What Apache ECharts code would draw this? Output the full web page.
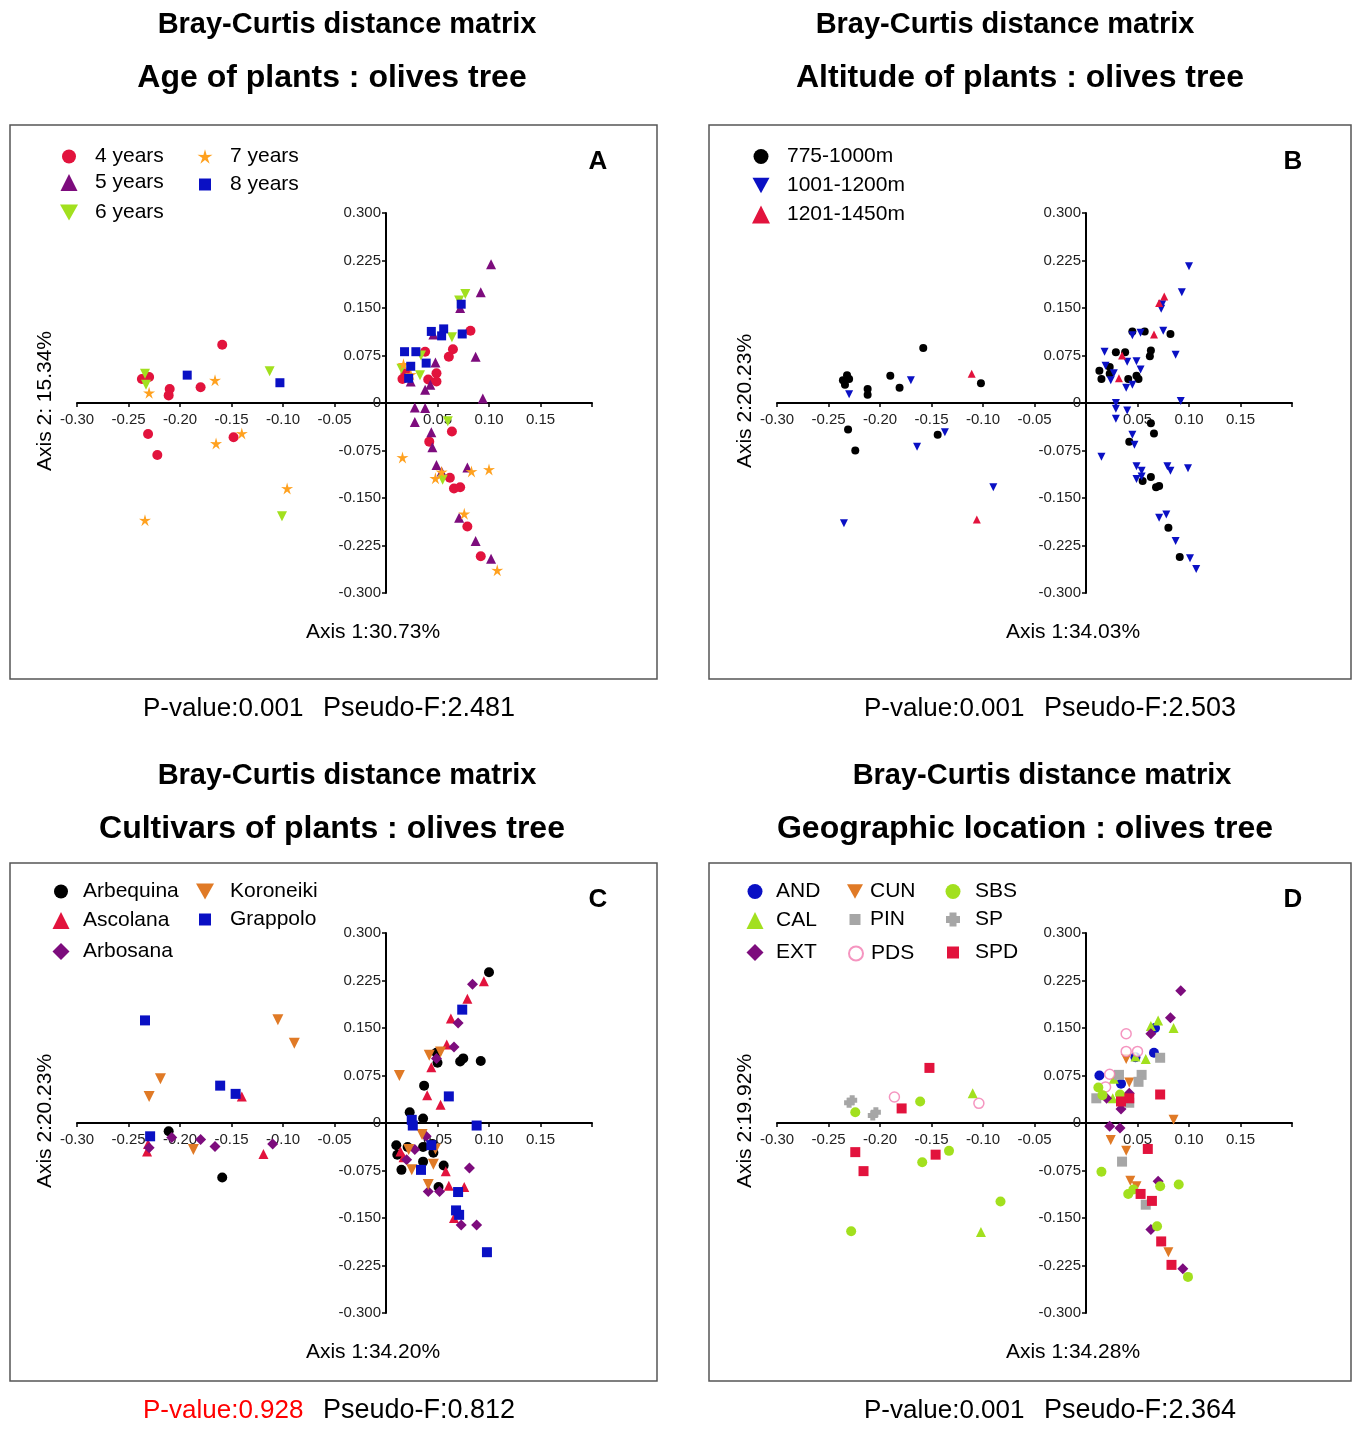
<!DOCTYPE html>
<html>
<head>
<meta charset="utf-8">
<script src="https://cdn.jsdelivr.net/npm/echarts@6/dist/echarts.min.js"></script>
<style>
html,body{margin:0;padding:0;background:#fff;}
#main{width:1353px;height:1433px;}
</style>
</head>
<body>
<div id="main"></div>
<script>
// ---------- data (PCoA coordinates) ----------
// A : age of plants
var age4 = [[-0.237,0.038],[-0.230,0.041],[-0.210,0.022],[-0.211,0.012],[-0.180,0.025],[-0.159,0.092],[-0.231,-0.049],[-0.222,-0.082],[-0.148,-0.054],
	[0.082,0.114],[0.065,0.085],[0.061,0.073],[0.038,0.081],[0.049,0.047],[0.041,0.037],[0.049,0.034],[0.016,0.038],[0.019,0.047],
	[0.064,-0.045],[0.042,-0.061],[0.062,-0.118],[0.066,-0.135],[0.072,-0.133],[0.079,-0.195],[0.092,-0.242]];
var age5 = [[0.102,0.219],[0.092,0.175],[0.072,0.150],[0.046,0.108],[0.048,0.064],[0.087,0.073],[0.024,0.034],[0.043,0.029],[0.038,0.021],
	[0.094,0.007],[0.028,-0.007],[0.038,-0.008],[0.028,-0.030],[0.044,-0.046],[0.045,-0.070],[0.049,-0.098],[0.054,-0.108],[0.079,-0.102],
	[0.071,-0.181],[0.087,-0.218],[0.102,-0.246]];
var age6 = [[-0.234,0.046],[-0.233,0.029],[-0.113,0.050],[-0.101,-0.179],[0.077,0.172],[0.071,0.162],[0.064,0.104],[0.015,0.054],
	[0.033,0.044],[0.034,0.075],[0.060,-0.029],[0.055,-0.121]];
var age7 = [[-0.230,0.016],[-0.166,0.036],[-0.140,-0.048],[-0.165,-0.064],[-0.096,-0.135],[-0.234,-0.185],[0.017,0.061],[0.024,0.045],
	[0.016,-0.086],[0.054,-0.109],[0.048,-0.119],[0.083,-0.108],[0.100,-0.105],[0.076,-0.175],[0.108,-0.264]];
var age8 = [[-0.193,0.044],[-0.103,0.032],[0.073,0.156],[0.044,0.113],[0.056,0.117],[0.054,0.106],[0.074,0.109],[0.018,0.081],
	[0.029,0.081],[0.039,0.063],[0.024,0.058],[0.022,0.039]];

// B : altitude
var alt775 = [[-0.236,0.036],[-0.232,0.044],[-0.230,0.038],[-0.234,0.029],[-0.212,0.022],[-0.212,0.013],[-0.190,0.043],[-0.181,0.024],
	[-0.158,0.087],[-0.102,0.031],[-0.231,-0.042],[-0.224,-0.075],[-0.144,-0.050],
	[0.045,0.113],[0.057,0.113],[0.082,0.109],[0.063,0.083],[0.062,0.074],[0.029,0.080],[0.038,0.080],[0.023,0.057],[0.013,0.051],
	[0.015,0.038],[0.023,0.046],[0.041,0.038],[0.049,0.043],[0.051,0.038],[0.063,-0.032],[0.066,-0.048],[0.042,-0.061],[0.063,-0.117],
	[0.055,-0.123],[0.068,-0.133],[0.071,-0.131],[0.080,-0.197],[0.091,-0.243]];
var alt1001 = [[-0.230,0.014],[-0.170,0.036],[-0.137,-0.046],[-0.164,-0.069],[-0.090,-0.133],[-0.235,-0.190],
	[0.100,0.216],[0.093,0.175],[0.074,0.156],[0.073,0.149],[0.075,0.114],[0.045,0.107],[0.053,0.111],[0.018,0.081],[0.019,0.059],
	[0.049,0.066],[0.040,0.065],[0.087,0.076],[0.053,0.053],[0.027,0.047],[0.024,0.036],[0.039,0.024],[0.045,0.029],[0.092,0.003],
	[0.029,0.000],[0.029,-0.009],[0.040,-0.012],[0.029,-0.025],[0.045,-0.050],[0.047,-0.066],[0.015,-0.085],[0.049,-0.100],
	[0.054,-0.107],[0.049,-0.120],[0.054,-0.116],[0.079,-0.100],[0.082,-0.107],[0.099,-0.103],[0.071,-0.181],[0.078,-0.176],
	[0.087,-0.218],[0.101,-0.245],[0.107,-0.262]];
var alt1201 = [[-0.111,0.046],[-0.106,-0.184],[0.076,0.168],[0.071,0.158],[0.066,0.108],[0.035,0.075],[0.032,0.039]];

// C : cultivars
var cArbequina = [[-0.211,-0.013],[-0.159,-0.086],[0.100,0.238],[0.049,0.111],[0.050,0.095],[0.072,0.097],[0.075,0.102],[0.092,0.098],
	[0.037,0.059],[0.023,0.017],[0.036,0.007],[0.010,-0.035],[0.011,-0.050],[0.021,-0.038],[0.036,-0.038],[0.046,-0.047],[0.036,-0.061],
	[0.015,-0.074],[0.056,-0.067],[0.051,-0.101],[0.045,-0.033]];
var cAscolana = [[-0.231,-0.033],[-0.232,-0.045],[-0.119,-0.049],[-0.140,0.042],[0.095,0.224],[0.079,0.196],[0.063,0.165],[0.059,0.124],
	[0.044,0.088],[0.040,0.044],[0.053,0.029],[0.014,-0.045],[0.017,-0.054],[0.058,-0.076],[0.061,-0.099],[0.076,-0.101],[0.066,-0.150]];
var cArbosana = [[-0.230,-0.039],[-0.208,-0.023],[-0.180,-0.026],[-0.166,-0.037],[-0.110,-0.033],[0.084,0.219],[0.070,0.158],[0.066,0.120],
	[0.049,0.102],[0.039,-0.021],[0.028,-0.042],[0.020,-0.058],[0.081,-0.071],[0.041,-0.108],[0.052,-0.108],[0.073,-0.161],[0.088,-0.161]];
var cKoroneiki = [[-0.105,0.163],[-0.089,0.126],[-0.219,0.070],[-0.230,0.042],[-0.187,-0.042],[0.013,0.075],[0.042,0.107],[0.053,0.112],
	[0.035,-0.018],[0.022,-0.042],[0.025,-0.074],[0.046,-0.065],[0.041,-0.097],[0.048,-0.041]];
var cGrappolo = [[-0.234,0.162],[-0.161,0.059],[-0.146,0.046],[-0.229,-0.021],[0.074,0.179],[0.061,0.042],[0.025,0.005],[0.026,-0.004],
	[0.088,-0.004],[0.044,-0.035],[0.034,-0.074],[0.070,-0.109],[0.068,-0.138],[0.071,-0.145],[0.098,-0.204]];

// D : geographic location
var dAND = [[0.013,0.075],[0.034,0.062],[0.048,0.104],[0.066,0.111],[0.067,0.150]];
var dCAL = [[-0.110,0.047],[-0.102,-0.172],[0.070,0.162],[0.063,0.153],[0.085,0.150],[0.058,0.101],[0.048,0.105],[0.027,0.070],[0.026,0.039]];
var dEXT = [[0.092,0.209],[0.082,0.166],[0.063,0.141],[0.020,0.039],[0.042,0.047],[0.034,0.022],[0.023,-0.005],[0.033,-0.008],
	[0.070,-0.092],[0.063,-0.168],[0.094,-0.230]];
var dCUN = [[0.039,0.101],[0.042,0.064],[0.085,0.005],[0.024,-0.027],[0.039,-0.044],[0.043,-0.091],[0.049,-0.100],[0.080,-0.204]];
var dPIN = [[0.010,0.039],[0.032,0.076],[0.054,0.076],[0.051,0.065],[0.072,0.103],[0.042,0.032],[0.035,-0.061],[0.058,-0.129]];
var dPDS = [[-0.186,0.041],[-0.104,0.031],[0.039,0.141],[0.039,0.113],[0.050,0.113],[0.023,0.077],[0.019,0.057]];
var dSBS = [[-0.224,0.017],[-0.161,0.034],[-0.133,-0.044],[-0.159,-0.062],[-0.083,-0.124],[-0.228,-0.171],[0.012,0.056],[0.016,0.044],
	[0.033,0.045],[0.015,-0.077],[0.041,-0.112],[0.046,-0.105],[0.072,-0.100],[0.090,-0.097],[0.069,-0.163],[0.099,-0.243]];
var dSP = [[-0.230,0.032],[-0.227,0.036],[-0.207,0.012],[-0.204,0.017]];
var dSPD = [[-0.152,0.087],[-0.179,0.023],[-0.224,-0.046],[-0.216,-0.076],[-0.146,-0.050],[0.072,0.045],[0.034,0.034],[0.042,0.039],
	[0.060,-0.041],[0.053,-0.112],[0.064,-0.123],[0.073,-0.187],[0.083,-0.224]];

// axis ranges / texts
var xRange = [-0.30, 0.20], xStep = 0.05;
var yRange = [-0.30, 0.30], yStep = 0.075;
var panelTitles = ['Age of plants : olives tree', 'Altitude of plants : olives tree', 'Cultivars of plants : olives tree', 'Geographic location : olives tree'];
var xNames = ['Axis 1:30.73%', 'Axis 1:34.03%', 'Axis 1:34.20%', 'Axis 1:34.28%'];
var yNames = ['Axis 2: 15.34%', 'Axis 2:20.23%', 'Axis 2:20.23%', 'Axis 2:19.92%'];
var pValues = ['P-value:0.001', 'P-value:0.001', 'P-value:0.928', 'P-value:0.001'];
var pseudoF = ['Pseudo-F:2.481', 'Pseudo-F:2.503', 'Pseudo-F:0.812', 'Pseudo-F:2.364'];
var letters = ['A', 'B', 'C', 'D'];

var FONT = '"Liberation Sans", Arial, sans-serif';
var RED = '#e2133d', PURPLE = '#7d0c7d', LIME = '#a2e01e', STARC = '#ffa11f', BLUE = '#0a10c4',
	ORANGE = '#e07a26', GRAY = '#a6a6a6', PINK = '#f27ab0';
var DOWN = 'path://M0,0L10,0L5,9Z';
var STAR = 'path://M10,0L12.06,7.17L19.51,6.91L13.33,11.08L15.88,18.09L10,13.5L4.12,18.09L6.67,11.08L0.49,6.91L7.94,7.17Z';
var PLUS = 'path://M2.5,0L7.5,0L7.5,2.5L10,2.5L10,7.5L7.5,7.5L7.5,10L2.5,10L2.5,7.5L0,7.5L0,2.5L2.5,2.5Z';

// panel geometry: box, grid
var boxes = [[10,125,647,554],[709,125,642,554],[10,863,647,518],[709,863,642,518]];
var grids = [
	{left:77, top:213, width:515, height:380},
	{left:777, top:213, width:515, height:380},
	{left:77, top:933, width:515, height:380},
	{left:777, top:933, width:515, height:380}
];
// axes cross at (0,0): shift them from the grid edge to the zero line
var xOff = -190, yOff = -309;

function xAx(i) {
	return {
		gridIndex:i, type:'value', min:xRange[0], max:xRange[1], interval:xStep,
		position:'bottom', offset:xOff,
		axisLine:{onZero:false, lineStyle:{color:'#000', width:2}},
		axisTick:{show:true, length:4, lineStyle:{color:'#000', width:1.5}},
		splitLine:{show:false},
		axisLabel:{fontSize:15, fontFamily:FONT, color:'#222', margin:9,
			formatter:function(v){ if (Math.abs(v) < 1e-9 || v > 0.19) return ''; return v.toFixed(2); }}
	};
}
function yAx(i) {
	return {
		gridIndex:i, type:'value', min:yRange[0], max:yRange[1], interval:yStep,
		position:'left', offset:yOff,
		axisLine:{onZero:false, lineStyle:{color:'#000', width:2}},
		axisTick:{show:true, length:4, lineStyle:{color:'#000', width:1.5}},
		splitLine:{show:false},
		axisLabel:{fontSize:15, fontFamily:FONT, color:'#222', margin:5,
			formatter:function(v){ if (Math.abs(v) < 1e-9) return '0'; return v.toFixed(3); }}
	};
}
function sc(name, g, data, symbol, size, color, extra) {
	var s = {
		name:name, type:'scatter', xAxisIndex:g, yAxisIndex:g, data:data,
		symbol:symbol, symbolSize:size, itemStyle:{color:color, opacity:1},
		emphasis:{disabled:true}
	};
	if (extra) for (var k in extra) s[k] = extra[k];
	return s;
}
// one legend per entry so each sits where it does in the figure
function leg(name, cx, cy, tx, size) {
	size = size || 16;
	return {
		data:[name], orient:'vertical', left:cx - size / 2, top:cy - 11, itemWidth:size, itemHeight:size,
		padding:0, selectedMode:false,
		textStyle:{fontSize:21, fontFamily:FONT, color:'#000', padding:[0, 0, 0, Math.max(0, tx - cx - size / 2 - 5)]}
	};
}
function txt(x, y, s, font, color, align, rot) {
	var el = {
		type:'text', x:x, y:y, silent:true,
		style:{text:s, font:font, fill:color || '#000', textAlign:align || 'center', textVerticalAlign:'middle'}
	};
	if (rot) el.rotation = rot;
	return el;
}

var series = [
	sc('4 years', 0, age4, 'circle', 10, RED),
	sc('5 years', 0, age5, 'triangle', 10, PURPLE),
	sc('6 years', 0, age6, DOWN, 10, LIME),
	sc('7 years', 0, age7, STAR, 12, STARC),
	sc('8 years', 0, age8, 'rect', 9, BLUE),

	sc('775-1000m', 1, alt775, 'circle', 8, '#000'),
	sc('1001-1200m', 1, alt1001, DOWN, 8, BLUE),
	sc('1201-1450m', 1, alt1201, 'triangle', 8, RED),

	sc('Arbequina', 2, cArbequina, 'circle', 10, '#000'),
	sc('Ascolana', 2, cAscolana, 'triangle', 10, RED),
	sc('Arbosana', 2, cArbosana, 'diamond', 11, PURPLE),
	sc('Koroneiki', 2, cKoroneiki, DOWN, 11, ORANGE),
	sc('Grappolo', 2, cGrappolo, 'rect', 10, BLUE),

	sc('AND', 3, dAND, 'circle', 10, BLUE),
	sc('CAL', 3, dCAL, 'triangle', 10, LIME),
	sc('EXT', 3, dEXT, 'diamond', 11, PURPLE),
	sc('CUN', 3, dCUN, DOWN, 10, ORANGE),
	sc('PIN', 3, dPIN, 'rect', 10, GRAY),
	sc('PDS', 3, dPDS, 'circle', 10, '#fff', {itemStyle:{color:'#fff', borderColor:PINK, borderWidth:1.5}}),
	sc('SBS', 3, dSBS, 'circle', 10, LIME),
	sc('SP', 3, dSP, PLUS, 10, GRAY),
	sc('SPD', 3, dSPD, 'rect', 10, RED)
];

var legends = [
	leg('4 years', 69, 157, 95, 14), leg('5 years', 69, 183, 95, 17), leg('6 years', 69, 213, 95, 18),
	leg('7 years', 205, 157, 230, 15), leg('8 years', 205, 185, 230, 12),
	leg('775-1000m', 761, 157, 787, 15), leg('1001-1200m', 761, 186, 787, 17), leg('1201-1450m', 761, 215, 787, 18),
	leg('Arbequina', 61, 892, 83, 14), leg('Ascolana', 61, 921, 83, 17), leg('Arbosana', 61, 952, 83, 17),
	leg('Koroneiki', 205, 892, 230, 18), leg('Grappolo', 205, 920, 230, 12),
	leg('AND', 755, 892, 776, 15), leg('CAL', 755, 921, 776, 17), leg('EXT', 755, 953, 776, 17),
	leg('CUN', 855, 892, 870, 16), leg('PIN', 855, 920, 870, 11), leg('PDS', 855, 954, 870, 14),
	leg('SBS', 953, 892, 975, 15), leg('SP', 953, 920, 975, 14), leg('SPD', 953, 953, 975, 12)
];

// texts around the plots
var graphics = [];
var t1x = [347, 1005, 347, 1042], t2x = [332, 1020, 332, 1025];
var topY = [0, 0, 751, 751];
for (var i = 0; i < 4; i++) {
	var b = boxes[i], g = grids[i], oy = topY[i];
	graphics.push({type:'rect', shape:{x:b[0], y:b[1], width:b[2], height:b[3]}, silent:true,
		style:{fill:'transparent', stroke:'#555', lineWidth:1.5}});
	graphics.push(txt(t1x[i], 25 + oy, 'Bray-Curtis distance matrix', 'bold 29px ' + FONT));
	graphics.push(txt(t2x[i], 78 + oy, panelTitles[i], 'bold 32px ' + FONT));
	graphics.push(txt(b[0] + b[2] - 59 + (i % 2 ? 1 : 0), b[1] + 37, letters[i], 'bold 26px ' + FONT));
	graphics.push(txt(g.left + 296, g.top + g.height + 39, xNames[i], '21px ' + FONT));
	graphics.push(txt(g.left - 32, g.top + g.height / 2 - 2, yNames[i], '21px ' + FONT, '#000', 'center', Math.PI / 2));
	var px = i % 2 ? 864 : 143;
	var py = b[1] + b[3] + 30;
	graphics.push(txt(px, py, pValues[i], '26px ' + FONT, i === 2 ? '#ff0000' : '#000', 'left'));
	graphics.push(txt(px + 180, py, pseudoF[i], '27px ' + FONT, '#000', 'left'));
}

var myChart = echarts.init(document.getElementById('main'));
var option = {
	backgroundColor:'#fff',
	animation:false,
	grid:grids,
	xAxis:[xAx(0), xAx(1), xAx(2), xAx(3)],
	yAxis:[yAx(0), yAx(1), yAx(2), yAx(3)],
	legend:legends,
	graphic:{elements:graphics},
	series:series
};
myChart.setOption(option);
</script>
</body>
</html>
